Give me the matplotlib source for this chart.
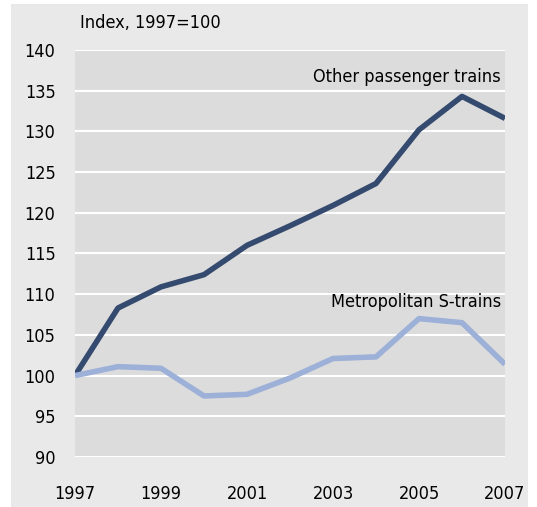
import matplotlib.pyplot as plt
from matplotlib.patches import Rectangle

years = list(range(1997, 2008))
other_trains = [100, 108.3, 110.9, 112.4, 116.0, 118.4, 120.9, 123.6, 130.2, 134.3, 131.6]
s_trains = [100, 101.1, 100.9, 97.5, 97.7, 99.7, 102.1, 102.3, 107.0, 106.5, 101.4]
x_ticks = [1997, 1999, 2001, 2003, 2005, 2007]
y_ticks = list(range(90, 141, 5))

plt.rcParams['font.family'] = ['DejaVu Sans']

fig = plt.figure(figsize=(5.37, 5.07), dpi=100)
# light grey panel behind everything
fig.add_artist(Rectangle((11 / 537, 0), 517 / 537, 1 - 4 / 507,
                         transform=fig.transFigure, facecolor='#e9e9e9',
                         edgecolor='none', zorder=-1))

ax = fig.add_axes([75 / 537, 1 - 457 / 507, 430 / 537, 407 / 507])
ax.set_facecolor('#dcdcdc')

ax.plot(years, other_trains, color='#354a6f', lw=4, solid_capstyle='butt', zorder=3)
ax.plot(years, s_trains, color='#9db0d8', lw=4, solid_capstyle='butt', zorder=3)

ax.set_xlim(1997, 2007)
ax.set_ylim(90, 140)
ax.set_xticks(x_ticks)
ax.set_yticks(y_ticks)
ax.tick_params(length=0, labelsize=13)
ax.tick_params(axis='y', pad=14)
ax.tick_params(axis='x', pad=20)
ax.grid(axis='y', color='white', lw=1.5)
ax.set_axisbelow(True)
for s in ax.spines.values():
    s.set_visible(False)

for lab in ax.get_xticklabels() + ax.get_yticklabels():
    lab.set_fontstretch('condensed')

ax.text(2006.9, 136.7, 'Other passenger trains', ha='right', va='center',
        fontsize=13, fontstretch='condensed')
ax.text(2006.9, 109.1, 'Metropolitan S-trains', ha='right', va='center',
        fontsize=13, fontstretch='condensed')
fig.text(80 / 537, 1 - 23 / 507, 'Index, 1997=100', ha='left', va='center',
         fontsize=13, fontstretch='condensed')

fig.savefig('out.png', dpi=100)
